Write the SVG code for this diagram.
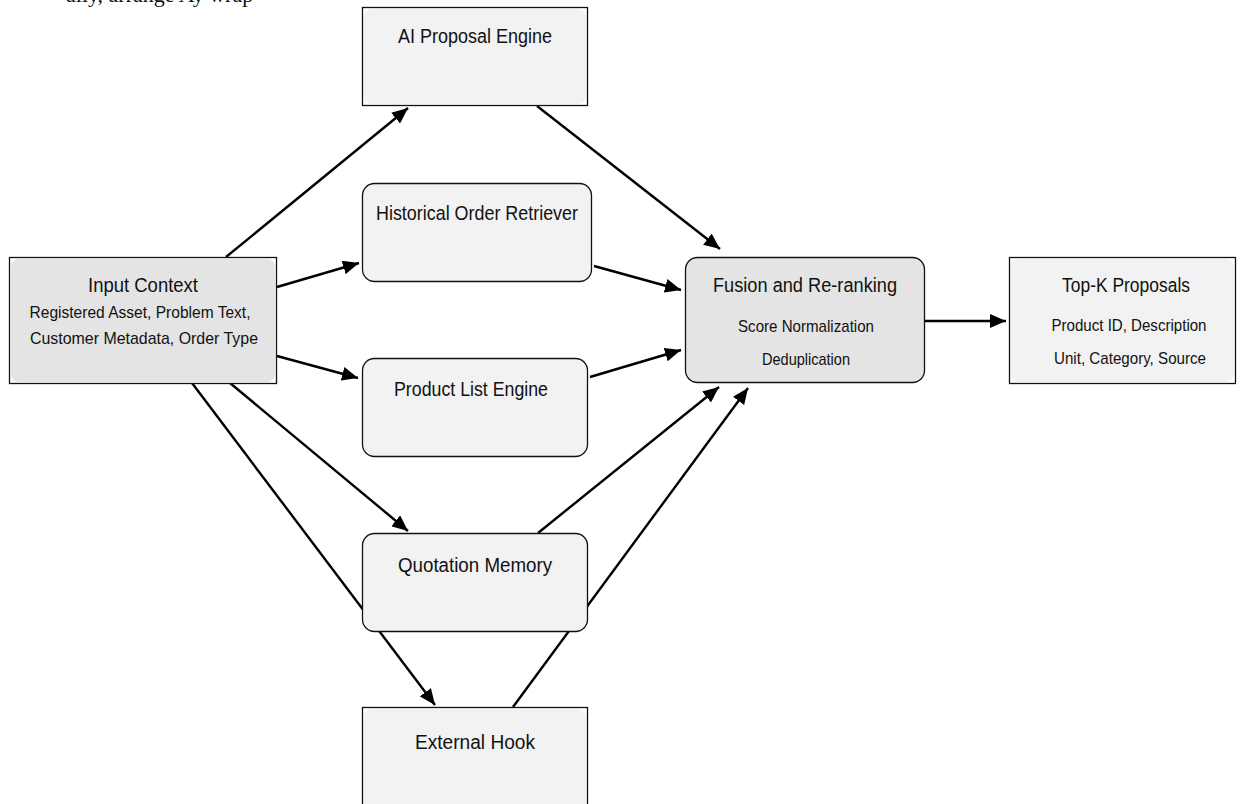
<svg xmlns="http://www.w3.org/2000/svg" width="1244" height="804" viewBox="0 0 1244 804">
<defs>
<style>
.t{font-family:"Liberation Sans",Arial,sans-serif;font-size:20px;fill:#111;text-anchor:middle}
.s{font-family:"Liberation Sans",Arial,sans-serif;font-size:17px;fill:#111;text-anchor:middle}
.sq{fill:#fff;stroke:#111;stroke-width:1.3}
.rnd{fill:#f2f2f2;stroke:#111;stroke-width:1.3}
.in{fill:#f2f2f2}
.dk{fill:#e4e4e4}
.c{stroke:#000;stroke-width:2.4;fill:none;marker-end:url(#ah)}
</style>
<marker id="ah" markerUnits="userSpaceOnUse" markerWidth="18" markerHeight="14" refX="16" refY="7" orient="auto">
<path d="M0,0 L16,7 L0,14 z" fill="#000"/>
</marker>
</defs>
<rect width="1244" height="804" fill="#fff"/>
<text x="66" y="2" font-family="Liberation Serif,serif" font-size="22" fill="#111">ally, arrange Ay wrap</text>

<g id="connectors">
<line class="c" x1="226" y1="257" x2="408" y2="108"/>
<line class="c" x1="277" y1="287" x2="359" y2="263"/>
<line class="c" x1="277" y1="356" x2="358" y2="378"/>
<line class="c" x1="230" y1="383" x2="408" y2="531"/>
<line class="c" x1="192" y1="383" x2="435" y2="705"/>
<line class="c" x1="537" y1="106" x2="720" y2="249"/>
<line class="c" x1="594" y1="266" x2="681" y2="290"/>
<line class="c" x1="590" y1="377" x2="681" y2="350"/>
<line class="c" x1="538" y1="533" x2="719" y2="387"/>
<line class="c" x1="513" y1="707" x2="748" y2="388"/>
<line class="c" x1="925" y1="321" x2="1006" y2="321"/>
</g>

<g id="input-context">
<rect class="sq" x="9.5" y="257.5" width="267" height="126"/>
<rect class="dk" x="11" y="259" width="264" height="123" rx="8"/>
<text class="t" x="143" y="292" textLength="110" lengthAdjust="spacingAndGlyphs">Input Context</text>
<text class="s" x="140" y="318" textLength="221" lengthAdjust="spacingAndGlyphs">Registered Asset, Problem Text,</text>
<text class="s" x="144" y="344" textLength="228" lengthAdjust="spacingAndGlyphs">Customer Metadata, Order Type</text>
</g>

<g id="ai-proposal-engine">
<rect class="sq" x="362.5" y="7.5" width="225" height="98"/>
<rect class="in" x="364" y="9" width="222" height="95" rx="8"/>
<text class="t" x="475" y="43" textLength="154" lengthAdjust="spacingAndGlyphs">AI Proposal Engine</text>
</g>

<g id="historical-order-retriever">
<rect class="rnd" x="362.5" y="183.5" width="229" height="98" rx="12"/>
<text class="t" x="477" y="220" textLength="202" lengthAdjust="spacingAndGlyphs">Historical Order Retriever</text>
</g>

<g id="product-list-engine">
<rect class="rnd" x="362.5" y="358.5" width="225" height="98" rx="12"/>
<text class="t" x="471" y="396" textLength="154" lengthAdjust="spacingAndGlyphs">Product List Engine</text>
</g>

<g id="quotation-memory">
<rect class="rnd" x="362.5" y="533.5" width="225" height="98" rx="12"/>
<text class="t" x="475" y="572" textLength="154" lengthAdjust="spacingAndGlyphs">Quotation Memory</text>
</g>

<g id="external-hook">
<rect class="sq" x="362.5" y="707.5" width="225" height="110"/>
<rect class="in" x="364" y="709" width="222" height="110" rx="8"/>
<text class="t" x="475" y="749" textLength="120" lengthAdjust="spacingAndGlyphs">External Hook</text>
</g>

<g id="fusion-reranking">
<rect x="685.5" y="257.5" width="239" height="125" rx="12" fill="#e4e4e4" stroke="#111" stroke-width="1.3"/>
<text class="t" x="805" y="292" textLength="184" lengthAdjust="spacingAndGlyphs">Fusion and Re-ranking</text>
<text class="s" x="806" y="332" textLength="136" lengthAdjust="spacingAndGlyphs">Score Normalization</text>
<text class="s" x="806" y="365" textLength="88" lengthAdjust="spacingAndGlyphs">Deduplication</text>
</g>

<g id="top-k-proposals">
<rect class="sq" x="1009.5" y="257.5" width="226" height="126"/>
<rect class="in" x="1011" y="259" width="223" height="123" rx="8"/>
<text class="t" x="1126" y="292" textLength="128" lengthAdjust="spacingAndGlyphs">Top-K Proposals</text>
<text class="s" x="1129" y="331" textLength="155" lengthAdjust="spacingAndGlyphs">Product ID, Description</text>
<text class="s" x="1130" y="364" textLength="152" lengthAdjust="spacingAndGlyphs">Unit, Category, Source</text>
</g>
</svg>
